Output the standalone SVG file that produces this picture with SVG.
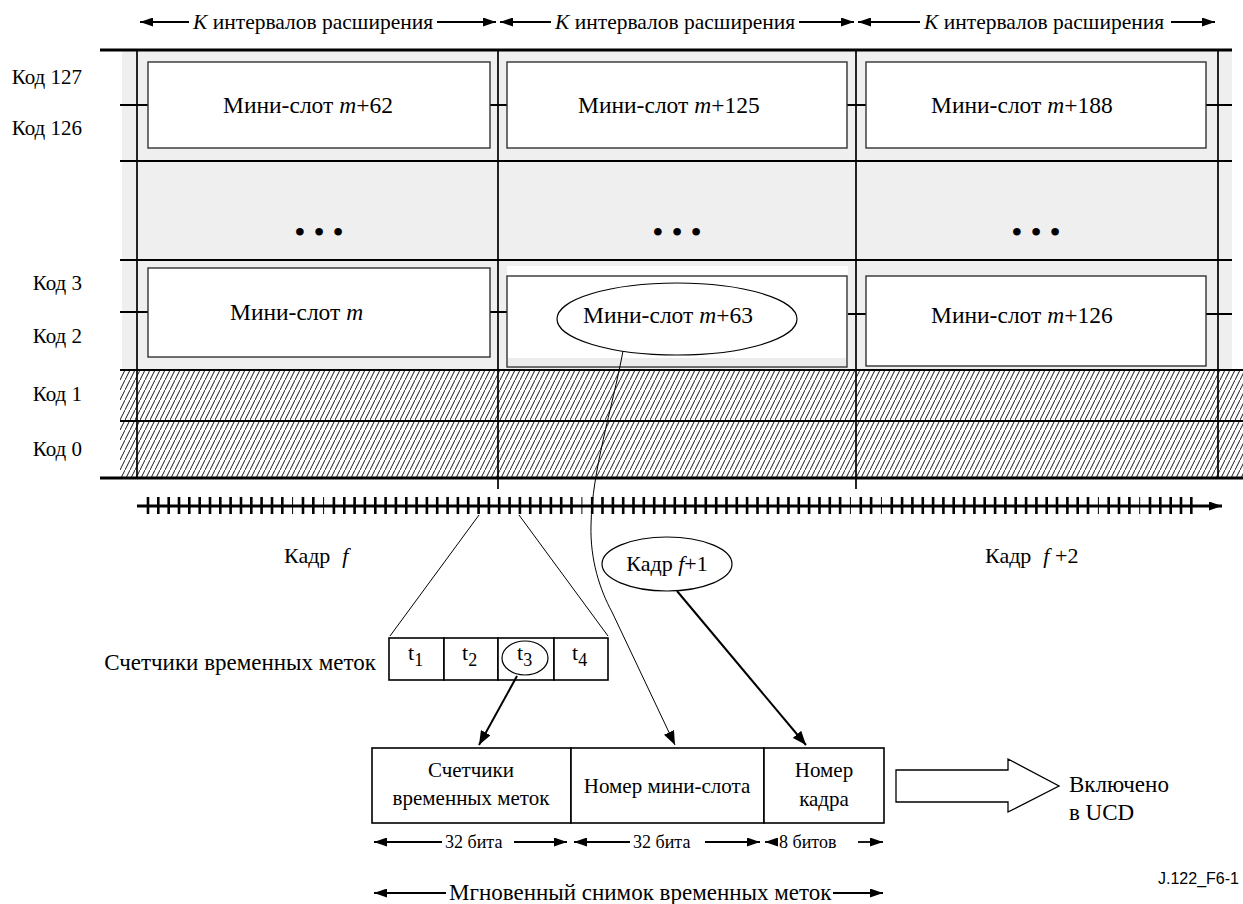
<svg xmlns="http://www.w3.org/2000/svg" width="1243" height="904" viewBox="0 0 1243 904">
  <style>
    text{font-family:"Liberation Serif","DejaVu Serif",serif;font-size:21px;fill:#000}
    .i{font-style:italic}
    .sm{font-size:18px}
    .lbl{font-size:23.5px}
    .hd{font-size:21.5px}
    .code{text-anchor:end}
    .mid{text-anchor:middle}
    .sans{font-family:"Liberation Sans",Arial,sans-serif;font-size:16px}
    .hl{stroke:#000;stroke-width:2.8;fill:none}
    .hl2{stroke:#000;stroke-width:2.2;fill:none}
    .vl{stroke:#000;stroke-width:1.7;fill:none}
    .box{fill:#fff;stroke:#333;stroke-width:1.4}
    .tk{stroke:#000;stroke-width:2;fill:none}
    .dim{stroke:#000;stroke-width:1.8;fill:none}
    .thin{stroke:#000;stroke-width:1;fill:none}
    .cell{fill:#fff;stroke:#000;stroke-width:1.6}
    .ell{fill:#fff;stroke:#000;stroke-width:1.2}
  </style>
  <defs>
    <marker id="ah" viewBox="0 0 13 9" refX="13" refY="4.5" markerWidth="13" markerHeight="9" markerUnits="userSpaceOnUse" orient="auto-start-reverse">
      <path d="M0,0L13,4.5L0,9z" fill="#000"/>
    </marker>
    <marker id="ahL" viewBox="0 0 14 11" refX="14" refY="5.5" markerWidth="14" markerHeight="11" markerUnits="userSpaceOnUse" orient="auto">
      <path d="M0,0L14,5.5L0,11z" fill="#000"/>
    </marker>
    <pattern id="hatch" width="5" height="10" patternUnits="userSpaceOnUse">
      <rect width="5" height="10" fill="#fff"/>
      <path d="M-0.5,11L5.5,-1" stroke="#1a1a1a" stroke-width="1"/>
    </pattern>
  </defs>

  <!-- header: extension-interval spans -->
  <g id="header">
    <line class="dim" x1="140" y1="22" x2="189" y2="22" marker-start="url(#ah)"/>
    <text class="hd" x="193" y="29"><tspan class="i">K</tspan> интервалов расширения</text>
    <line class="dim" x1="437" y1="22" x2="496" y2="22" marker-end="url(#ah)"/>
    <line class="dim" x1="500" y1="22" x2="551" y2="22" marker-start="url(#ah)"/>
    <text class="hd" x="555" y="29"><tspan class="i">K</tspan> интервалов расширения</text>
    <line class="dim" x1="799" y1="22" x2="854" y2="22" marker-end="url(#ah)"/>
    <line class="dim" x1="858" y1="22" x2="920" y2="22" marker-start="url(#ah)"/>
    <text class="hd" x="924" y="29"><tspan class="i">K</tspan> интервалов расширения</text>
    <line class="dim" x1="1171" y1="22" x2="1215" y2="22" marker-end="url(#ah)"/>
  </g>

  <!-- code grid -->
  <g id="grid">
    <rect x="122" y="50" width="1110" height="320" fill="#efefef"/>
    <rect x="120" y="370" width="1123" height="108" fill="url(#hatch)"/>
    <path class="hl" d="M100,50H1232M100,478H1243"/>
    <path class="hl2" d="M120,161H1232M120,260H1232M120,370H1243M120,421H1243"/>
    <path class="vl" d="M137,50V478M498,50V489M856,50V489M1218,50V478"/>
    <path class="tk" d="M120,105H148M490,105H507M847,105H866M1206,105H1232M120,312H148M490,312H507M847,314H866M1206,314H1232"/>
  </g>

  <g id="codes">
    <text class="code" x="82" y="84">Код 127</text>
    <text class="code" x="82" y="135">Код 126</text>
    <text class="code" x="82" y="290">Код 3</text>
    <text class="code" x="82" y="343">Код 2</text>
    <text class="code" x="82" y="401">Код 1</text>
    <text class="code" x="82" y="456">Код 0</text>
  </g>

  <g id="slot-m62">
    <rect class="box" x="148" y="62" width="342" height="86"/>
    <text class="lbl" x="223" y="113">Мини-слот <tspan class="i">m</tspan>+62</text>
  </g>
  <g id="slot-m125">
    <rect class="box" x="507" y="62" width="340" height="86"/>
    <text class="lbl" x="578" y="113">Мини-слот <tspan class="i">m</tspan>+125</text>
  </g>
  <g id="slot-m188">
    <rect class="box" x="866" y="62" width="340" height="86"/>
    <text class="lbl" x="931" y="113">Мини-слот <tspan class="i">m</tspan>+188</text>
  </g>

  <g id="ellipsis">
    <text class="mid" x="319" y="243" style="font-size:32px">• • •</text>
    <text class="mid" x="677" y="243" style="font-size:32px">• • •</text>
    <text class="mid" x="1036" y="243" style="font-size:32px">• • •</text>
  </g>

  <g id="slot-m">
    <rect class="box" x="148" y="268" width="342" height="89"/>
    <text class="lbl" x="230" y="320">Мини-слот <tspan class="i">m</tspan></text>
  </g>
  <g id="slot-m63">
    <rect x="507" y="266" width="341" height="101" fill="#fff"/>
    <rect class="box" x="507" y="276" width="340" height="91"/>
    <rect x="508" y="358" width="338" height="8" fill="#ececec"/>
    <ellipse class="ell" cx="677" cy="319" rx="120" ry="36"/>
    <text class="lbl" x="583" y="323">Мини-слот <tspan class="i">m</tspan>+63</text>
  </g>
  <g id="slot-m126">
    <rect class="box" x="866" y="276" width="340" height="90"/>
    <text class="lbl" x="931" y="323">Мини-слот <tspan class="i">m</tspan>+126</text>
  </g>

  <!-- time axis with timestamp ticks -->
  <g id="axis">
    <line x1="137" y1="506" x2="1222" y2="506" stroke="#000" stroke-width="2.8" marker-end="url(#ah)"/>
    <path stroke="#000" stroke-width="2.6" fill="none" d="M148,497V514M158.3,497V514M168.7,497V514M179,497V514M189.3,497V514M199.7,497V514M210,497V514M220.3,497V514M230.6,497V514M241,497V514M251.3,497V514M261.6,497V514M272,497V514M282.3,497V514M303,497V514M313.3,497V514M333.9,497V514M344.3,497V514M354.6,497V514M364.9,497V514M375.3,497V514M385.6,497V514M395.9,497V514M406.3,497V514M416.6,497V514M426.9,497V514M437.2,497V514M447.6,497V514M457.9,497V514M468.2,497V514M478.6,497V514M488.9,497V514M499.2,497V514M509.6,497V514M519.9,497V514M530.2,497V514M540.5,497V514M550.9,497V514M561.2,497V514M571.5,497V514M592.2,497V514M602.5,497V514M612.9,497V514M623.2,497V514M633.5,497V514M643.8,497V514M654.2,497V514M664.5,497V514M674.8,497V514M685.2,497V514M695.5,497V514M705.8,497V514M716.2,497V514M726.5,497V514M736.8,497V514M747.1,497V514M757.5,497V514M767.8,497V514M778.1,497V514M788.5,497V514M798.8,497V514M809.1,497V514M819.5,497V514M829.8,497V514M840.1,497V514M860.8,497V514M871.1,497V514M891.8,497V514M902.1,497V514M912.4,497V514M922.8,497V514M933.1,497V514M943.4,497V514M953.7,497V514M964.1,497V514M974.4,497V514M984.7,497V514M995.1,497V514M1005.4,497V514M1015.7,497V514M1026.1,497V514M1036.4,497V514M1046.7,497V514M1057,497V514M1067.4,497V514M1077.7,497V514M1088,497V514M1108.7,497V514M1119,497V514M1129.4,497V514M1150,497V514M1160.3,497V514M1170.7,497V514M1181,497V514M1191.3,497V514"/>
    <path stroke="#000" stroke-width="1" fill="none" d="M292.6,497V514M323.6,497V514M581.9,497V514M850.4,497V514M881.4,497V514M1098.4,497V514M1139.7,497V514"/>
  </g>

  <g id="frame-f">
    <text x="284" y="563" style="font-size:22px">Кадр<tspan class="i" dx="12">f</tspan></text>
  </g>
  <g id="frame-f1">
    <ellipse class="ell" cx="667" cy="564" rx="65" ry="27"/>
    <text class="mid" x="667" y="571" style="font-size:22px">Кадр <tspan class="i">f</tspan>+1</text>
  </g>
  <g id="frame-f2">
    <text x="985" y="563" style="font-size:22px">Кадр<tspan class="i" dx="12">f</tspan> +2</text>
  </g>

  <g id="counters">
    <text class="code" x="376" y="670" style="font-size:23px">Счетчики временных меток</text>
    <rect class="cell" x="389" y="638" width="55" height="42"/>
    <rect class="cell" x="444" y="638" width="54" height="42"/>
    <rect class="cell" x="498" y="638" width="56" height="42"/>
    <rect class="cell" x="554" y="638" width="54" height="42"/>
    <text x="408" y="660" style="font-size:22px">t<tspan class="sm" dy="6">1</tspan></text>
    <text x="462" y="660" style="font-size:22px">t<tspan class="sm" dy="6">2</tspan></text>
    <ellipse cx="525" cy="658" rx="23" ry="17" fill="none" stroke="#000" stroke-width="1.2"/>
    <text x="517" y="660" style="font-size:22px">t<tspan class="sm" dy="6">3</tspan></text>
    <text x="572" y="660" style="font-size:22px">t<tspan class="sm" dy="6">4</tspan></text>
  </g>

  <g id="snapshot">
    <rect class="cell" x="372" y="748" width="199" height="75"/>
    <rect class="cell" x="571" y="748" width="193" height="75"/>
    <rect class="cell" x="764" y="748" width="120" height="75"/>
    <text class="mid" x="471" y="777">Счетчики</text>
    <text class="mid" x="471" y="805">временных меток</text>
    <text class="mid" x="667" y="793">Номер мини-слота</text>
    <text class="mid" x="824" y="777">Номер</text>
    <text class="mid" x="824" y="806">кадра</text>
  </g>

  <g id="widths">
    <line class="dim" x1="374" y1="842" x2="442" y2="842" marker-start="url(#ah)"/>
    <text class="sm" x="445" y="848">32 бита</text>
    <line class="dim" x1="514" y1="842" x2="567" y2="842" marker-end="url(#ah)"/>
    <line class="dim" x1="574" y1="842" x2="630" y2="842" marker-start="url(#ah)"/>
    <text class="sm" x="633" y="848">32 бита</text>
    <line class="dim" x1="705" y1="842" x2="760" y2="842" marker-end="url(#ah)"/>
    <line class="dim" x1="765" y1="842" x2="776" y2="842" marker-start="url(#ah)"/>
    <text class="sm" x="779" y="848">8 битов</text>
    <line class="dim" x1="858" y1="842" x2="883" y2="842" marker-end="url(#ah)"/>
    <line class="dim" x1="374" y1="893" x2="446" y2="893" marker-start="url(#ah)"/>
    <text x="449" y="900" style="font-size:23px">Мгновенный снимок временных меток</text>
    <line class="dim" x1="833" y1="893" x2="883" y2="893" marker-end="url(#ah)"/>
  </g>

  <g id="ucd">
    <polygon points="896,770 1008,770 1008,759 1059,786 1008,812 1008,802 896,802" fill="#fff" stroke="#000" stroke-width="1.3"/>
    <text x="1069" y="792" style="font-size:23px">Включено</text>
    <text x="1069" y="820" style="font-size:23px">в UCD</text>
  </g>

  <g id="connectors">
    <line class="thin" x1="479" y1="515" x2="390" y2="636"/>
    <line class="thin" x1="519" y1="515" x2="608" y2="636"/>
    <line class="tk" x1="517" y1="676" x2="479" y2="745" marker-end="url(#ahL)"/>
    <path class="thin" d="M623,351C612,410 592,470 591,525C590,560 600,590 612,612L675,745" marker-end="url(#ahL)"/>
    <line class="tk" x1="677" y1="591" x2="806" y2="745" marker-end="url(#ahL)"/>
  </g>

  <text class="sans" x="1158" y="884">J.122_F6-1</text>
</svg>
